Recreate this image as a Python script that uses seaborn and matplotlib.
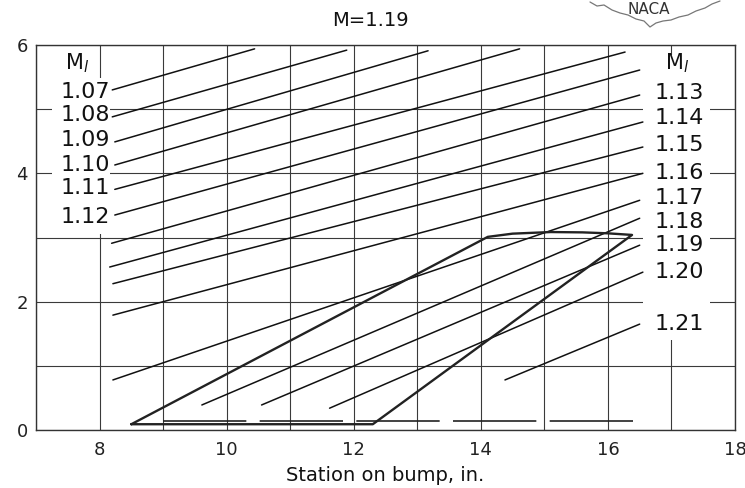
import numpy as np
import pandas as pd
import matplotlib
matplotlib.use("Agg")
import matplotlib.pyplot as plt
from matplotlib.patches import Rectangle
from matplotlib.lines import Line2D
import seaborn as sns

# ---------------- data ----------------
ml_labels = ["1.07", "1.08", "1.09", "1.10", "1.11", "1.12", "1.13", "1.14",
             "1.15", "1.16", "1.17", "1.18", "1.19", "1.20", "1.21"]
line_x0 = [8.20, 8.20, 8.24, 8.24, 8.24, 8.24, 8.19, 8.16, 8.21, 8.21, 8.21, 9.61, 10.55, 11.62, 14.38]
line_y0 = [5.30, 4.88, 4.49, 4.13, 3.75, 3.35, 2.91, 2.54, 2.28, 1.79, 0.78, 0.39, 0.39, 0.34, 0.78]
line_x1 = [10.44, 11.89, 13.17, 14.61, 16.27, 16.50, 16.50, 16.55, 16.55, 16.55, 16.50, 16.50, 16.50, 16.55, 16.50]
line_y1 = [5.94, 5.92, 5.91, 5.94, 5.89, 5.61, 5.22, 4.80, 4.41, 4.00, 3.58, 3.30, 2.88, 2.46, 1.65]

# label positions (left group / right group)
left_labels = ["1.07", "1.08", "1.09", "1.10", "1.11", "1.12"]
left_label_y = [5.27, 4.91, 4.52, 4.13, 3.77, 3.32]
right_labels = ["1.13", "1.14", "1.15", "1.16", "1.17", "1.18", "1.19", "1.20", "1.21"]
right_label_y = [5.25, 4.86, 4.44, 4.00, 3.61, 3.24, 2.88, 2.46, 1.65]

# boundary of region
bound_x = [8.50, 14.11, 14.50, 15.10, 15.60, 16.00, 16.38, 12.30, 8.50]
bound_y = [0.09, 3.01, 3.06, 3.085, 3.08, 3.065, 3.04, 0.09, 0.09]

# dashed base line
base_x = [9.00, 16.39]
base_y = [0.14, 0.14]

x_ticks = [8, 10, 12, 14, 16, 18]
y_ticks = [0, 2, 4, 6]

# ---------------- figure ----------------
sns.set_theme(style="white")
plt.rcParams['font.family'] = ['DejaVu Sans']

fig = plt.figure(figsize=(7.45, 4.88), dpi=100)
fig.patch.set_facecolor("white")
ax = fig.add_axes([36/745, 1 - 430/488, (735-36)/745, (430-45)/488])
ax.set_facecolor("white")

ax.set_xlim(7, 18)
ax.set_ylim(0, 6)
ax.set_xticks(np.arange(7, 19, 1))
ax.set_yticks(np.arange(0, 7, 1))
ax.set_xticklabels([str(t) if t in x_ticks else "" for t in range(7, 19)])
ax.set_yticklabels([str(t) if t in y_ticks else "" for t in range(0, 7)])
ax.tick_params(axis="both", length=0, labelsize=13, colors="#222222")
ax.tick_params(axis="x", pad=8)
ax.tick_params(axis="y", pad=6)
ax.set_axisbelow(True)
ax.grid(True, color="#3a3a3a", linewidth=0.8)
for s in ax.spines.values():
    s.set_visible(True)
    s.set_color("#333333")
    s.set_linewidth(1.0)

# white areas behind label columns (break the grid)
ax.add_patch(Rectangle((7.25, 3.05), 0.92, 2.44, facecolor="white", edgecolor="none", zorder=1))
ax.add_patch(Rectangle((16.56, 1.40), 1.05, 4.45, facecolor="white", edgecolor="none", zorder=1))

# iso-Mach lines
rows = []
for lab, xa, ya, xb, yb in zip(ml_labels, line_x0, line_y0, line_x1, line_y1):
    rows.append({"label": lab, "x": xa, "y": ya})
    rows.append({"label": lab, "x": xb, "y": yb})
df_lines = pd.DataFrame(rows)
sns.lineplot(data=df_lines, x="x", y="y", units="label", estimator=None, sort=False,
             color="#111111", linewidth=1.1, ax=ax, zorder=2)

# boundary
df_b = pd.DataFrame({"x": bound_x, "y": bound_y})
sns.lineplot(data=df_b, x="x", y="y", sort=False, estimator=None, color="#222222",
             linewidth=1.7, ax=ax, zorder=3)

# dashed base line
ax.plot(base_x, base_y, color="#222222", linewidth=1.2, dashes=(50, 8), zorder=3)

# labels
fs = 16
for lab, yy in zip(left_labels, left_label_y):
    ax.text(8.16, yy, lab, ha="right", va="center", fontsize=fs, color="#111111", zorder=4)
for lab, yy in zip(right_labels, right_label_y):
    ax.text(16.74, yy, lab, ha="left", va="center", fontsize=fs, color="#111111", zorder=4)
ax.text(7.65, 5.72, r"M$_\mathit{l}$", ha="center", va="center", fontsize=15, color="#111111", zorder=4)
ax.text(17.09, 5.72, r"M$_\mathit{l}$", ha="center", va="center", fontsize=15, color="#111111", zorder=4)

ax.set_xlabel("Station on bump, in.", fontsize=14, color="#111111", labelpad=5)
ax.set_ylabel("")

fig.text(370/745, 1 - 20/488, "M=1.19", ha="center", va="center", fontsize=14, color="#111111")

# NACA emblem (decorative)
fig.text(649/745, 1 - 10/488, "NACA", ha="center", va="center", fontsize=11, color="#333333")
logo_px = [(590, 2), (597, 6), (604, 5), (612, 10), (620, 13), (628, 15), (636, 19), (644, 21),
           (650, 27), (656, 23), (663, 21), (671, 20), (679, 17), (688, 15), (696, 11), (705, 8),
           (712, 4), (720, 1)]
fig.add_artist(Line2D([p[0]/745 for p in logo_px], [1 - p[1]/488 for p in logo_px],
                      transform=fig.transFigure, color="#777777", linewidth=0.9))

fig.savefig("out.png", dpi=100, facecolor="white")
